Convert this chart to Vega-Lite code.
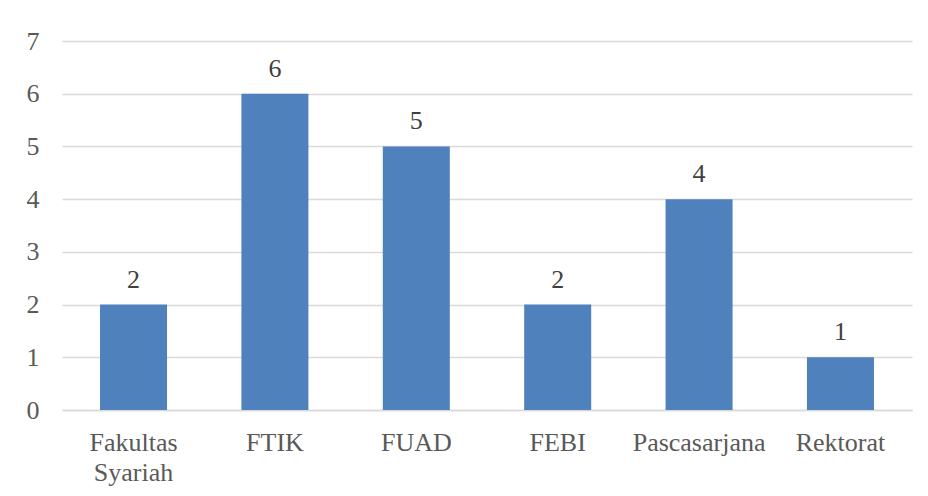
{
  "$schema": "https://vega.github.io/schema/vega-lite/v6.json",
  "width": 850,
  "height": 369,
  "autosize": "none",
  "padding": {"left": 62, "top": 41, "right": 16, "bottom": 86},
  "background": "white",
  "config": {
    "view": {"stroke": null},
    "font": "'Liberation Serif', 'Times New Roman', serif"
  },
  "data": {
    "values": [
      {"unit": "Fakultas Syariah", "count": 2},
      {"unit": "FTIK", "count": 6},
      {"unit": "FUAD", "count": 5},
      {"unit": "FEBI", "count": 2},
      {"unit": "Pascasarjana", "count": 4},
      {"unit": "Rektorat", "count": 1}
    ]
  },
  "encoding": {
    "x": {
      "field": "unit",
      "type": "nominal",
      "sort": null,
      "title": null,
      "scale": {"paddingInner": 0.526, "paddingOuter": 0.269},
      "axis": {
        "labelAngle": 0,
        "labelFont": "'Liberation Serif', 'Times New Roman', serif",
        "labelFontSize": 26,
        "labelColor": "#595959",
        "labelPadding": 19,
        "labelLineHeight": 30,
        "labelExpr": "split(datum.label, ' ')",
        "ticks": false,
        "domainColor": "#D9D9D9",
        "domainWidth": 1.5,
        "grid": false
      }
    },
    "y": {
      "field": "count",
      "type": "quantitative",
      "title": null,
      "scale": {"domain": [0, 7], "nice": false},
      "axis": {
        "values": [0, 1, 2, 3, 4, 5, 6, 7],
        "labelFont": "'Liberation Serif', 'Times New Roman', serif",
        "labelFontSize": 26,
        "labelColor": "#595959",
        "labelPadding": 23,
        "ticks": false,
        "domain": false,
        "gridColor": "#D9D9D9",
        "gridWidth": 1.5
      }
    }
  },
  "layer": [
    {"mark": {"type": "bar", "color": "#4F81BD"}},
    {
      "mark": {"type": "text", "dy": -17, "baseline": "alphabetic", "fontSize": 26, "font": "'Liberation Serif', 'Times New Roman', serif", "color": "#404040"},
      "encoding": {"text": {"field": "count", "type": "quantitative"}}
    }
  ]
}
